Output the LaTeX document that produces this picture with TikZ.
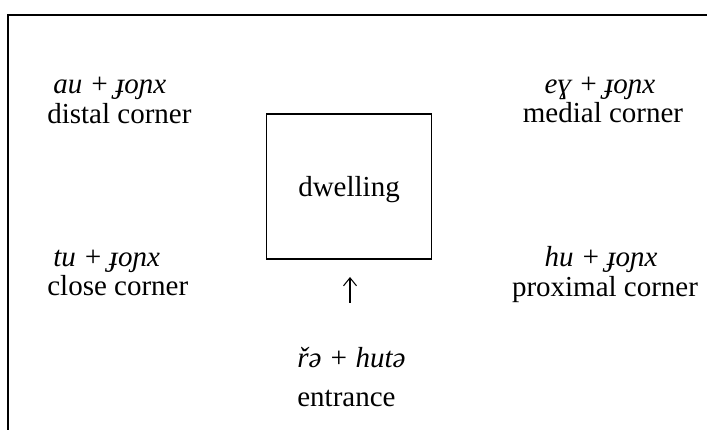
\documentclass[tikz,border=0pt]{standalone}
\usepackage{fontspec}
\setmainfont{Liberation Serif}
\usetikzlibrary{arrows.meta}
\begin{document}
    \begin{tikzpicture}[
            term/.style={font=\fontsize{16.5}{20}\selectfont\itshape,inner sep=0pt},
            gloss/.style={font=\fontsize{16.5}{20}\selectfont,inner sep=0pt}
        ]
        \useasboundingbox (0,0) rectangle (14.14,8.6);
        % table border (cut off on the right and at the bottom)
        \draw[line width=1.1pt] (14.14,8.3) -- (0.16,8.3) -- (0.16,0);
        % the dwelling
        \node[draw,rectangle,anchor=center,line width=1.1pt,
              minimum width=3.3cm,minimum height=2.9cm,text depth=0pt,
              font=\fontsize{16.5}{20}\selectfont] (dwelling) at (6.98,4.87) {dwelling};
        % left corners
        \node[term,anchor=base west] (distalterm) at (1.06,6.72) {au + ɟoɲx};
        \node[gloss,anchor=base west] (distal) at (0.94,6.12) {distal corner};
        \node[term,anchor=base west] (closeterm) at (1.06,3.26) {tu + ɟoɲx};
        \node[gloss,anchor=base west] (close) at (0.94,2.68) {close corner};
        % right corners
        \node[term,anchor=base] (medialterm) at (12.0,6.72) {eɣ + ɟoɲx};
        \node[gloss,anchor=base] (medial) at (12.06,6.14) {medial corner};
        \node[term,anchor=base] (proximalterm) at (12.02,3.26) {hu + ɟoɲx};
        \node[gloss,anchor=base] (proximal) at (12.1,2.66) {proximal corner};
        % entrance
        \node[term,anchor=base west] (entranceterm) at (5.94,1.24) {řə + hutə};
        \node[gloss,anchor=base west] (entrance) at (5.94,0.46) {entrance};
        \coordinate (arrowfoot) at (7.0,2.54);
        \coordinate (arrowtip) at (7.0,3.06);
        \draw[line width=0.6pt,-{Straight Barb[length=1.6mm,width=2.6mm]}] (arrowfoot) -- (arrowtip);
    \end{tikzpicture}
\end{document}
